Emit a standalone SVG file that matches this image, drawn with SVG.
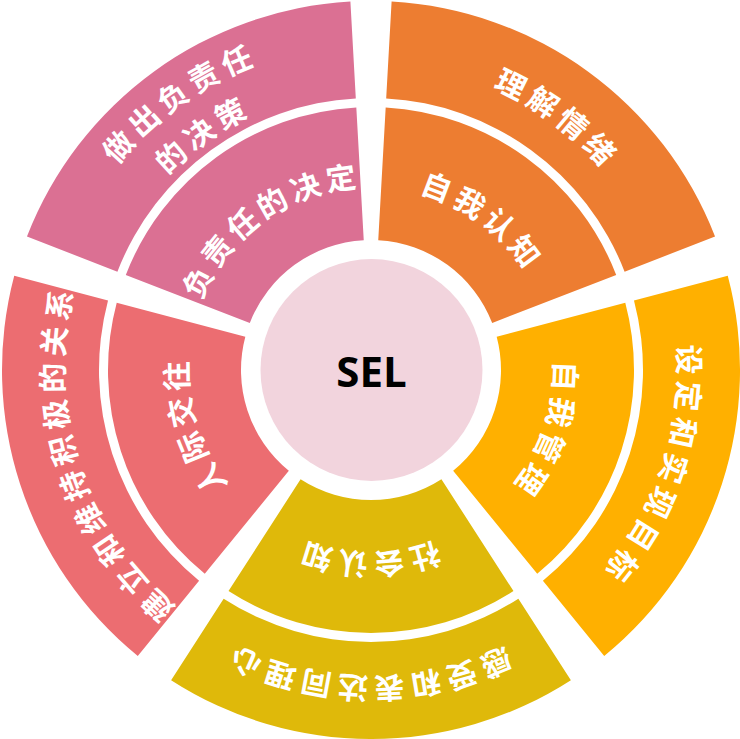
<svg xmlns="http://www.w3.org/2000/svg" width="740" height="739" viewBox="0 0 740 739">
<style>
.lbl { font-family: "Noto Sans CJK SC", "Microsoft YaHei", sans-serif; font-weight: 700; font-size: 30px; fill: #ffffff; letter-spacing: 7px; dominant-baseline: central; text-anchor: middle; }
.sel { font-family: "Open Sans", "Liberation Sans", sans-serif; font-weight: 700; font-size: 42px; fill: #000000; text-anchor: middle; }
</style>
<defs>
<path id="segIn" d="M480.27,299.58 L592.07,227.53 A263,263 0 0 1 592.07,512.47 L480.27,440.42 A130,130 0 0 0 480.27,299.58 Z"/>
<path id="segOut" d="M599.64,222.65 L681.17,170.11 A369,369 0 0 1 681.17,569.89 L599.64,517.35 A272,272 0 0 0 599.64,222.65 Z"/>
<path id="arc196" d="M438.04,185.82 A196,196 0 0 1 438.04,554.18" fill="none"/>
<path id="arc320" d="M480.45,69.30 A320,320 0 0 1 480.45,670.70" fill="none"/>
<path id="arc339" d="M486.94,51.45 A339,339 0 0 1 486.94,688.55" fill="none"/>
<path id="arc294" d="M471.55,93.73 A294,294 0 0 1 471.55,646.27" fill="none"/>
</defs>
<rect width="740" height="739" fill="#ffffff"/>
<g id="connectors"/>
<g id="center">
<circle cx="371.5" cy="370" r="111" fill="#F2D4DD"/>
<text class="sel" x="371.5" y="387">SEL</text>
</g>
<g id="self-awareness" transform="rotate(-54 371 370)">
<use href="#segIn" fill="#ED7D31"/>
<text class="lbl" dx="3.5"><textPath href="#arc196" startOffset="50%">自我认知</textPath></text>
</g>
<g id="understand-emotions" transform="rotate(-54 371 370)">
<use href="#segOut" fill="#ED7D31"/>
<text class="lbl" dx="3.5"><textPath href="#arc320" startOffset="50%">理解情绪</textPath></text>
</g>
<g id="self-management" transform="rotate(18 371 370)">
<use href="#segIn" fill="#FFB000"/>
<text class="lbl" dx="3.5"><textPath href="#arc196" startOffset="50%">自我管理</textPath></text>
</g>
<g id="set-achieve-goals" transform="rotate(18 371 370)">
<use href="#segOut" fill="#FFB000"/>
<text class="lbl" dx="3.5"><textPath href="#arc320" startOffset="50%">设定和实现目标</textPath></text>
</g>
<g id="social-awareness" transform="rotate(90 371 370)">
<use href="#segIn" fill="#DFB90A"/>
<text class="lbl" dx="3.5"><textPath href="#arc196" startOffset="50%">社会认知</textPath></text>
</g>
<g id="empathy" transform="rotate(90 371 370)">
<use href="#segOut" fill="#DFB90A"/>
<text class="lbl" dx="3.5"><textPath href="#arc320" startOffset="50%">感受和表达同理心</textPath></text>
</g>
<g id="relationship-skills" transform="rotate(162 371 370)">
<use href="#segIn" fill="#EC6D71"/>
<text class="lbl" dx="3.5"><textPath href="#arc196" startOffset="50%">人际交往</textPath></text>
</g>
<g id="build-relationships" transform="rotate(162 371 370)">
<use href="#segOut" fill="#EC6D71"/>
<text class="lbl" dx="3.5"><textPath href="#arc320" startOffset="50%">建立和维持积极的关系</textPath></text>
</g>
<g id="responsible-decisions" transform="rotate(234 371 370)">
<use href="#segIn" fill="#DB7093"/>
<text class="lbl" dx="3.5"><textPath href="#arc196" startOffset="50%">负责任的决定</textPath></text>
</g>
<g id="make-responsible-decisions" transform="rotate(234 371 370)">
<use href="#segOut" fill="#DB7093"/>
<text class="lbl" dx="3.5"><textPath href="#arc339" startOffset="50%">做出负责任</textPath></text>
<text class="lbl" dx="3.5"><textPath href="#arc294" startOffset="50%">的决策</textPath></text>
</g>
</svg>
